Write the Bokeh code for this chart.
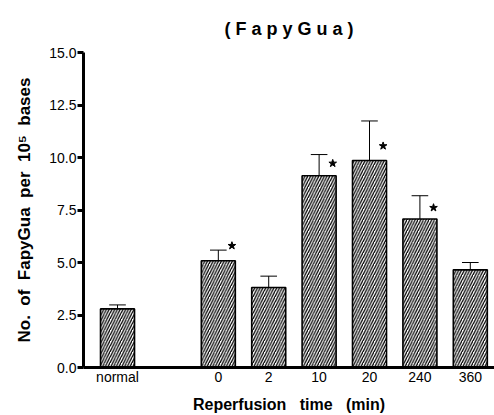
from bokeh.plotting import figure
from bokeh.models import FixedTicker, PrintfTickFormatter, Range1d
from bokeh.embed import file_html
from bokeh.resources import INLINE

# ---- data ----
groups = ["control", "reperfusion", "reperfusion", "reperfusion", "reperfusion", "reperfusion", "reperfusion"]
categories = ["normal", "0", "2", "10", "20", "240", "360"]
means = [2.79, 5.08, 3.81, 9.13, 9.86, 7.07, 4.65]
err_top = [2.98, 5.59, 4.35, 10.14, 11.74, 8.18, 5.00]
significant = [False, True, False, True, True, True, False]
star_level = [0, 5.80, 0, 9.72, 10.55, 7.61, 0]
y_ticks = [0.0, 2.5, 5.0, 7.5, 10.0, 12.5, 15.0]
title_text = "(FapyGua)"

# x positions: one slot per bar, one empty slot between groups
xs = []
pos = 0
prev = groups[0]
for g in groups:
    if g != prev:
        pos += 1
        prev = g
    xs.append(pos)
    pos += 1

NB = "\u00a0"
FONT = "Liberation Sans"

p = figure(width=494, height=415, output_backend="svg", toolbar_location=None,
           x_range=Range1d(-0.675, 7.48), y_range=Range1d(0, 15),
           min_border_left=83, min_border_right=0, min_border_top=52, min_border_bottom=47)
p.outline_line_color = None
p.xgrid.visible = False
p.ygrid.visible = False

p.title.text = NB.join(list(title_text))
p.title.align = "center"
p.title.text_font = FONT
p.title.text_font_size = "18px"
p.title.text_font_style = "bold"
p.title.text_color = "black"
p.title.offset = 0
p.title.standoff = 27

p.vbar(x=xs, top=means, width=0.675, fill_color="white", line_color="black", line_width=1.6,
       hatch_pattern="/", hatch_color="black", hatch_scale=5.5, hatch_weight=1.3)

cap = 0.165
p.segment(x0=xs, y0=means, x1=xs, y1=err_top, line_color="black", line_width=1)
p.segment(x0=[x - cap for x in xs], y0=err_top, x1=[x + cap for x in xs], y1=err_top,
          line_color="black", line_width=1)

sx = [x + 0.27 for x, s in zip(xs, significant) if s]
sy = [v for v, s in zip(star_level, significant) if s]
p.scatter(x=sx, y=sy, marker="star", size=8, fill_color="black", line_color="black")

# y axis
ya = p.yaxis[0]
ya.ticker = FixedTicker(ticks=y_ticks)
ya.formatter = PrintfTickFormatter(format="%.1f")
ya.axis_line_width = 3
ya.major_tick_line_width = 3
ya.major_tick_out = 6
ya.major_tick_in = 0
ya.minor_tick_line_color = None
ya.major_label_standoff = 1
ya.major_label_text_font = FONT
ya.major_label_text_font_size = "14px"
ya.major_label_text_color = "black"
ya.axis_label = (NB * 2).join(["No.", "of", "FapyGua", "per", "10\u2075", "bases"])
ya.axis_label_text_font = FONT
ya.axis_label_text_font_size = "17px"
ya.axis_label_text_font_style = "bold"
ya.axis_label_text_color = "black"
ya.axis_label_standoff = 12

# x axis
xa = p.xaxis[0]
xa.ticker = FixedTicker(ticks=xs)
xa.major_label_overrides = {x: c for x, c in zip(xs, categories)}
xa.axis_line_width = 3
xa.major_tick_line_color = None
xa.major_tick_out = 0
xa.major_tick_in = 0
xa.minor_tick_line_color = None
xa.major_label_standoff = 1
xa.major_label_text_font = FONT
xa.major_label_text_font_size = "14px"
xa.major_label_text_color = "black"
xa.axis_label = (NB * 3).join(["Reperfusion", "time", "(min)"])
xa.axis_label_text_font = FONT
xa.axis_label_text_font_size = "16px"
xa.axis_label_text_font_style = "bold"
xa.axis_label_text_color = "black"
xa.axis_label_standoff = 8

open("out.html", "w").write(file_html(p, INLINE))
